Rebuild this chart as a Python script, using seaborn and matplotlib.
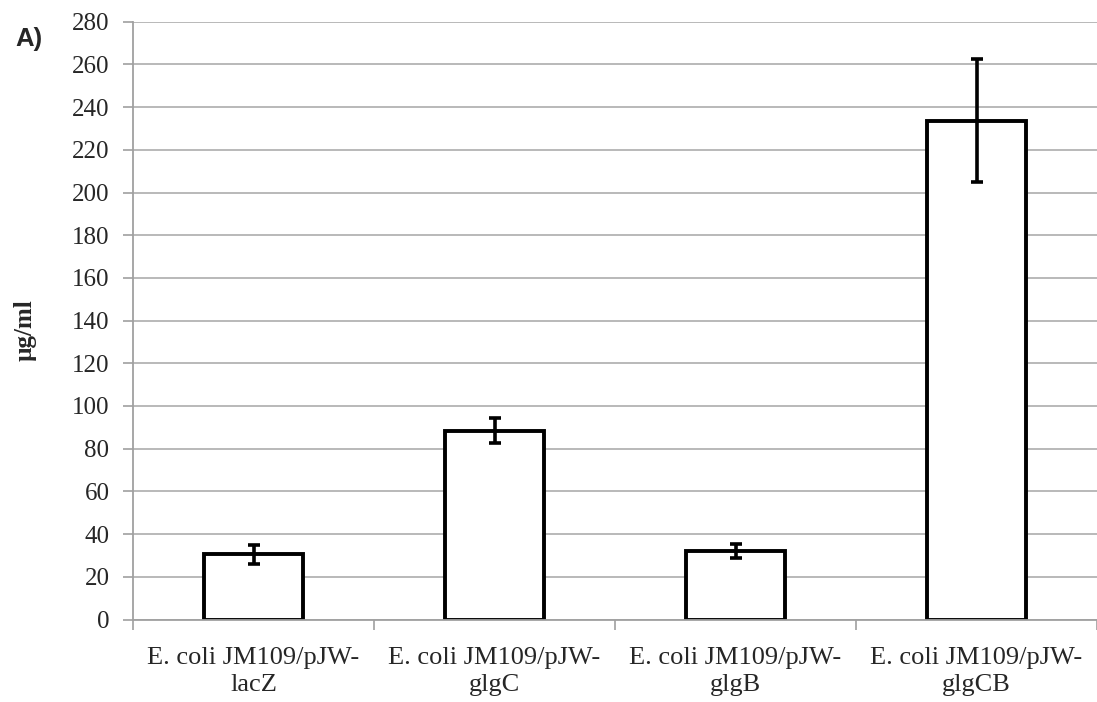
import numpy as np
import pandas as pd
import seaborn as sns
import matplotlib.pyplot as plt

# data
strains = ['E. coli JM109/pJW-\nlacZ', 'E. coli JM109/pJW-\nglgC',
           'E. coli JM109/pJW-\nglgB', 'E. coli JM109/pJW-\nglgCB']
means = [30.5, 88.5, 32.0, 233.5]
errs = [4.5, 5.8, 3.2, 28.8]
yticks = list(range(0, 281, 20))

df = pd.DataFrame({'strain': strains, 'conc': means})

sns.set_style('white')
serif = ['Liberation Serif', 'DejaVu Serif']
plt.rcParams['font.family'] = serif

fig = plt.figure(figsize=(10.97, 7.02), dpi=100)
ax = fig.add_axes([133 / 1097, 1 - 619.5 / 702, 1 - 133 / 1097, (619.5 - 21.7) / 702])

sns.barplot(data=df, x='strain', y='conc', color='white', edgecolor='black',
            linewidth=2.8, width=0.41, errorbar=None, ax=ax, zorder=3)
ax.errorbar(np.arange(len(strains)), means, yerr=errs, fmt='none', ecolor='black',
            elinewidth=2.6, capsize=4.5, capthick=2.6, zorder=4)

ax.set_ylim(0, 280)
ax.set_yticks(yticks, labels=[str(v) for v in yticks], fontsize=18, family=serif)
ax.set_xlim(-0.5, len(strains) - 0.5)
ax.grid(axis='y', color='#a6a6a6', linewidth=1.1, zorder=0)
ax.set_axisbelow(True)

for s in ['top', 'right']:
    ax.spines[s].set_visible(False)
for s in ['left', 'bottom']:
    ax.spines[s].set_color('#a0a0a0')
    ax.spines[s].set_linewidth(1.3)
    ax.spines[s].set_zorder(5)

# x ticks sit on the boundaries between categories, labels in the middle
ax.set_xticks(np.arange(-0.5, len(strains), 1.0))
ax.set_xticklabels([])
ax.set_xticks(np.arange(len(strains)), minor=True)
ax.set_xticklabels(strains, minor=True, fontsize=19, family=serif, linespacing=1.25)
ax.tick_params(axis='x', which='major', length=7, width=1.2, color='#a0a0a0', direction='out', bottom=True)
ax.tick_params(axis='x', which='minor', length=0, pad=20)
ax.tick_params(axis='y', length=7, width=1.2, color='#a0a0a0', direction='out', left=True, pad=10)

ax.set_xlabel('')
ax.set_ylabel('µg/ml', fontsize=18, fontweight='bold', family=serif)
ax.yaxis.set_label_coords(-0.0996, 0.484)

fig.text(15 / 1097, 1 - 39 / 702, 'A)', fontsize=18.5, fontweight='bold',
         family=['Liberation Sans', 'DejaVu Sans'], ha='left', va='center')

fig.savefig('out.png', dpi=100)
